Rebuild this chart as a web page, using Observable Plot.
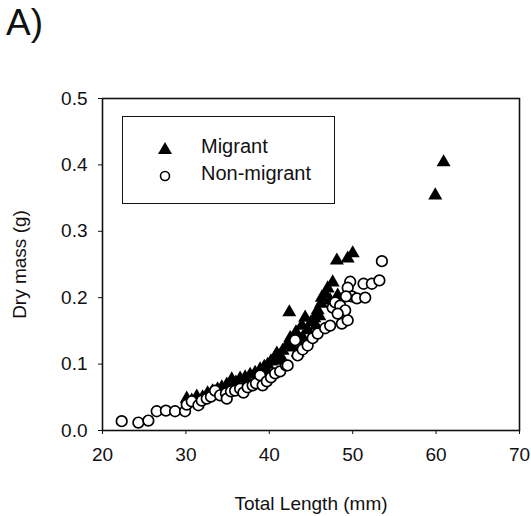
<!DOCTYPE html>
<html>
<head>
<meta charset="utf-8">
<script src="https://cdn.jsdelivr.net/npm/d3@7"></script>
<script src="https://cdn.jsdelivr.net/npm/@observablehq/plot@0.6"></script>
<style>
  html, body { margin: 0; padding: 0; background: #fff; }
  #wrap { position: relative; width: 531px; height: 516px; font-family: "Liberation Sans", Arial, sans-serif; }
  #panel { position: absolute; left: 6px; top: 2px; font-size: 37px; color: #111; }
  #legend { position: absolute; left: 122px; top: 116px; width: 213px; height: 88px; border: 1.5px solid #111; box-sizing: border-box; }
  .li { position: absolute; left: 0; font-size: 20px; color: #111; }
  .li svg { position: absolute; left: 32px; top: 4px; }
  .li span { position: absolute; left: 78px; top: 0; white-space: nowrap; }
</style>
</head>
<body>
<div id="wrap">
  <div id="chart"></div>
  <div id="panel">A)</div>
  <div id="legend">
    <div class="li" style="top:18px"><svg width="20" height="20"><path d="M10 3 L17 15 L3 15 Z" fill="#000"/></svg><span>Migrant</span></div>
    <div class="li" style="top:45px"><svg width="20" height="20"><circle cx="10" cy="10" r="4.5" fill="#fff" stroke="#000" stroke-width="1.6"/></svg><span>Non-migrant</span></div>
  </div>
</div>
<script>
const migrantLength = [30.1,30.7,31.3,32.0,32.6,33.2,33.8,34.3,34.9,35.5,36.0,36.5,37.1,37.7,38.3,38.9,39.4,39.8,40.2,40.6,40.9,41.3,41.6,42.1,42.4,42.5,42.8,43.2,43.6,43.9,44.3,44.6,45.0,45.4,45.8,46.2,46.3,46.7,47.0,47.6,48.1,49.4,50.0,59.9,60.9,47.3,48.2,45.6,43.4,41.5,39.8,37.2,44.0,46.0,47.8];
const migrantMass   = [0.048,0.045,0.051,0.050,0.056,0.059,0.062,0.065,0.069,0.077,0.072,0.078,0.080,0.084,0.087,0.092,0.096,0.099,0.104,0.108,0.116,0.113,0.120,0.128,0.178,0.139,0.125,0.148,0.136,0.158,0.170,0.151,0.163,0.169,0.181,0.191,0.200,0.206,0.214,0.223,0.256,0.259,0.267,0.354,0.404,0.196,0.203,0.158,0.117,0.105,0.087,0.071,0.140,0.172,0.190];

const nonMigrantLength = [22.3,24.3,25.5,26.5,27.6,28.7,29.9,30.1,30.7,31.5,31.9,32.5,33.0,33.5,34.1,34.8,34.9,35.4,35.9,36.5,36.9,37.4,38.0,38.4,38.9,39.2,39.7,40.2,40.7,41.3,42.0,42.2,43.1,43.4,44.0,44.6,45.2,45.8,46.7,47.3,47.6,47.9,48.5,48.7,49.4,49.7,49.4,49.9,50.5,51.3,51.5,52.3,53.2,53.5,49.1,48.2,49.2];
const nonMigrantMass   = [0.014,0.012,0.015,0.029,0.030,0.029,0.029,0.039,0.044,0.038,0.045,0.048,0.051,0.060,0.053,0.056,0.048,0.059,0.060,0.063,0.057,0.065,0.068,0.071,0.083,0.068,0.074,0.080,0.086,0.089,0.098,0.098,0.136,0.113,0.122,0.128,0.139,0.146,0.154,0.158,0.185,0.193,0.188,0.161,0.166,0.224,0.215,0.202,0.199,0.221,0.200,0.221,0.226,0.255,0.181,0.176,0.202];

const xTicks = [20, 30, 40, 50, 60, 70];
const yTicks = [0.0, 0.1, 0.2, 0.3, 0.4, 0.5];

const migrants = migrantLength.map((x, i) => ({x, y: migrantMass[i]}));
const nonMigrants = nonMigrantLength.map((x, i) => ({x, y: nonMigrantMass[i]}));

const chart = Plot.plot({
  width: 531,
  height: 516,
  marginLeft: 102,
  marginRight: 12,
  marginTop: 98,
  marginBottom: 86,
  style: { fontFamily: "Liberation Sans, Arial, sans-serif", fontSize: "19px", color: "#111", background: "#fff" },
  x: { domain: [20, 70], ticks: xTicks, label: "Total Length (mm)", labelAnchor: "center", labelArrow: "none", labelOffset: 79, tickSize: 4, tickPadding: 13 },
  y: { domain: [0, 0.5], ticks: yTicks, tickFormat: d3.format(".1f"), label: "Dry mass (g)", labelAnchor: "center", labelArrow: "none", labelOffset: 90, tickSize: 4, tickPadding: 11 },
  marks: [
    Plot.frame({ stroke: "#111", strokeWidth: 1.6 }),
    Plot.dot(migrants, { x: "x", y: "y", symbol: "triangle", r: 5.2, fill: "#000", stroke: "none" }),
    Plot.dot(nonMigrants, { x: "x", y: "y", symbol: "circle", r: 5.3, fill: "#fff", stroke: "#000", strokeWidth: 1.7 })
  ]
});
chart.querySelectorAll('[aria-label="x-axis label"] text, [aria-label="y-axis label"] text').forEach(t => t.style.fontSize = "19px");
document.getElementById("chart").appendChild(chart);
</script>
</body>
</html>
